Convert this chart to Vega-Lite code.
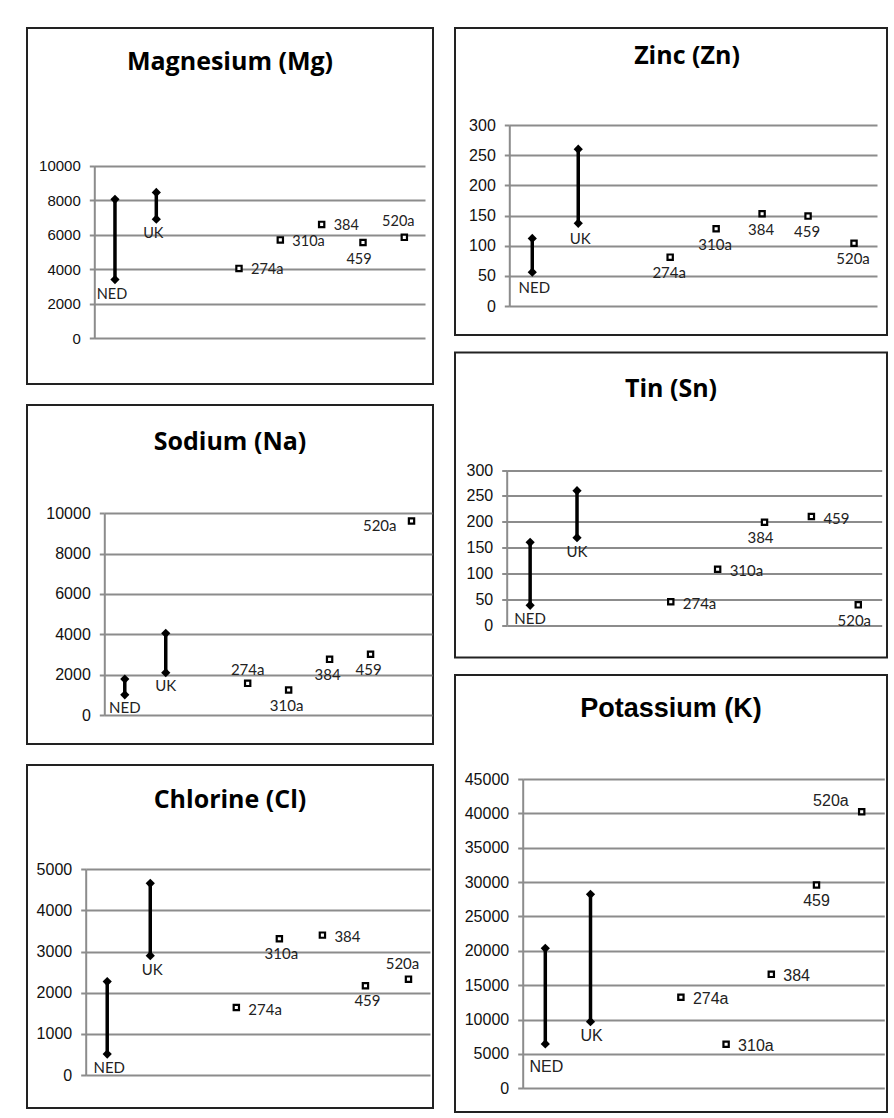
{
"$schema": "https://vega.github.io/schema/vega-lite/v6.json",
"background": "#ffffff",
"padding": {"left": 26, "top": 27, "right": 5, "bottom": 5},
"datasets": {
"ranges": [
{"panel":"Mg","site":"NED","idx":1,"lo":3400,"hi":8050,"place":"below"},
{"panel":"Mg","site":"UK","idx":2,"lo":6900,"hi":8450,"place":"below"},
{"panel":"Zn","site":"NED","idx":1,"lo":56,"hi":112,"place":"below"},
{"panel":"Zn","site":"UK","idx":2,"lo":137,"hi":260,"place":"below"},
{"panel":"Na","site":"NED","idx":1,"lo":1000,"hi":1780,"place":"below"},
{"panel":"Na","site":"UK","idx":2,"lo":2100,"hi":4050,"place":"below"},
{"panel":"Sn","site":"NED","idx":1,"lo":38,"hi":160,"place":"below"},
{"panel":"Sn","site":"UK","idx":2,"lo":169,"hi":260,"place":"below"},
{"panel":"Cl","site":"NED","idx":1,"lo":510,"hi":2270,"place":"below"},
{"panel":"Cl","site":"UK","idx":2,"lo":2900,"hi":4660,"place":"below"},
{"panel":"K","site":"NED","idx":1,"lo":6450,"hi":20370,"place":"farbelow"},
{"panel":"K","site":"UK","idx":2,"lo":9700,"hi":28220,"place":"below"}
],
"points": [
{"panel":"Mg","site":"274a","idx":4,"value":4050,"place":"right"},
{"panel":"Mg","site":"310a","idx":5,"value":5700,"place":"right"},
{"panel":"Mg","site":"384","idx":6,"value":6600,"place":"right"},
{"panel":"Mg","site":"459","idx":7,"value":5550,"place":"below"},
{"panel":"Mg","site":"520a","idx":8,"value":5850,"place":"above"},
{"panel":"Zn","site":"274a","idx":4,"value":81,"place":"below"},
{"panel":"Zn","site":"310a","idx":5,"value":128,"place":"below"},
{"panel":"Zn","site":"384","idx":6,"value":153,"place":"below"},
{"panel":"Zn","site":"459","idx":7,"value":149,"place":"below"},
{"panel":"Zn","site":"520a","idx":8,"value":104,"place":"below"},
{"panel":"Na","site":"274a","idx":4,"value":1570,"place":"above"},
{"panel":"Na","site":"310a","idx":5,"value":1240,"place":"below"},
{"panel":"Na","site":"384","idx":6,"value":2760,"place":"below"},
{"panel":"Na","site":"459","idx":7,"value":3010,"place":"below"},
{"panel":"Na","site":"520a","idx":8,"value":9620,"place":"left"},
{"panel":"Sn","site":"274a","idx":4,"value":45,"place":"right"},
{"panel":"Sn","site":"310a","idx":5,"value":108,"place":"right"},
{"panel":"Sn","site":"384","idx":6,"value":199,"place":"below"},
{"panel":"Sn","site":"459","idx":7,"value":210,"place":"right"},
{"panel":"Sn","site":"520a","idx":8,"value":39,"place":"below"},
{"panel":"Cl","site":"274a","idx":4,"value":1640,"place":"right"},
{"panel":"Cl","site":"310a","idx":5,"value":3310,"place":"below"},
{"panel":"Cl","site":"384","idx":6,"value":3400,"place":"right"},
{"panel":"Cl","site":"459","idx":7,"value":2170,"place":"below"},
{"panel":"Cl","site":"520a","idx":8,"value":2330,"place":"above"},
{"panel":"K","site":"274a","idx":4,"value":13240,"place":"right"},
{"panel":"K","site":"310a","idx":5,"value":6400,"place":"right"},
{"panel":"K","site":"384","idx":6,"value":16580,"place":"right"},
{"panel":"K","site":"459","idx":7,"value":29580,"place":"below"},
{"panel":"K","site":"520a","idx":8,"value":40240,"place":"aboveleft"}
]
},
"spacing": 20,
"hconcat": [
{"spacing": 21, "bounds": "flush", "vconcat": [
{
"width": 406, "height": 356,
"title": {"text": "Magnesium (Mg)", "offset": -67, "font": "Open Sans", "fontSize": 25, "fontWeight": "bold", "baseline": "alphabetic", "anchor": "middle", "color": "#000"},
"encoding": {"x": {"field": "idx", "type": "quantitative", "scale": {"domain": [0.5, 8.5], "range": [67.3, 398], "nice": false, "zero": false}, "axis": null}},
"layer": [
{"data": {"name": "ranges"}, "transform": [{"filter": {"field": "panel", "equal": "Mg"}}], "mark": {"type": "rule", "color": "#000", "strokeWidth": 3.5},
 "encoding": {"y": {"field": "lo", "type": "quantitative", "scale": {"domain": [0, 10000], "range": [310.3, 137.7], "nice": false, "zero": false},
   "axis": {"values": [0,2000,4000,6000,8000,10000], "title": null, "domain": true, "domainColor": "#8c8c8c", "domainWidth": 2, "grid": true, "gridColor": "#8c8c8c", "gridWidth": 2, "gridOpacity": 1, "ticks": true, "tickSize": 5, "tickWidth": 2, "tickColor": "#8c8c8c", "labelFont": "Liberation Sans", "labelFontSize": 15, "labelColor": "#111", "labelPadding": 9, "offset": -67.3, "format": "d", "labelBaseline": "middle"}},
  "y2": {"field": "hi"}}},
{"data": {"name": "ranges"}, "transform": [{"filter": {"field": "panel", "equal": "Mg"}}], "mark": {"type": "point", "shape": "diamond", "filled": true, "color": "#000", "size": 85, "opacity": 1},
 "encoding": {"y": {"field": "lo", "type": "quantitative"}}},
{"data": {"name": "ranges"}, "transform": [{"filter": {"field": "panel", "equal": "Mg"}}], "mark": {"type": "point", "shape": "diamond", "filled": true, "color": "#000", "size": 85, "opacity": 1},
 "encoding": {"y": {"field": "hi", "type": "quantitative"}}},
{"data": {"name": "points"}, "transform": [{"filter": {"field": "panel", "equal": "Mg"}}], "mark": {"type": "point", "shape": "square", "filled": true, "fill": "#fff", "stroke": "#000", "strokeWidth": 2.2, "size": 28, "opacity": 1},
 "encoding": {"y": {"field": "value", "type": "quantitative"}}},
{"data": {"name": "ranges"}, "transform": [{"filter": {"field": "panel", "equal": "Mg"}}], "mark": {"type": "text", "font": "Lato", "fontSize": 14.5, "color": "#222", "baseline": "middle",
  "align": {"expr": "datum.place === 'right' ? 'left' : (datum.place === 'left' || datum.place === 'aboveleft') ? 'right' : 'center'"},
  "dx": {"expr": "datum.place === 'right' ? 12 : datum.place === 'above' ? -6 : datum.place === 'left' ? -15 : datum.place === 'aboveleft' ? -13 : -3"},
  "dy": {"expr": "datum.place === 'right' ? 2 : datum.place === 'below' ? 15 : datum.place === 'farbelow' ? 23 : datum.place === 'above' ? -15 : datum.place === 'left' ? 5 : -11"}},
 "encoding": {"y": {"field": "lo", "type": "quantitative"}, "text": {"field": "site"}}},
{"data": {"name": "points"}, "transform": [{"filter": {"field": "panel", "equal": "Mg"}}], "mark": {"type": "text", "font": "Lato", "fontSize": 14.5, "color": "#222", "baseline": "middle",
  "align": {"expr": "datum.place === 'right' ? 'left' : (datum.place === 'left' || datum.place === 'aboveleft') ? 'right' : 'center'"},
  "dx": {"expr": "datum.place === 'right' ? 12 : datum.place === 'above' ? -6 : datum.place === 'left' ? -15 : datum.place === 'aboveleft' ? -13 : -4"},
  "dy": {"expr": "datum.place === 'right' ? 2 : datum.place === 'below' ? 17 : datum.place === 'farbelow' ? 23 : datum.place === 'above' ? -15 : datum.place === 'left' ? 5 : -11"}},
 "encoding": {"y": {"field": "value", "type": "quantitative"}, "text": {"field": "site"}}}
]
},
{
"width": 406, "height": 339,
"title": {"text": "Sodium (Na)", "offset": -70, "font": "Open Sans", "fontSize": 25, "fontWeight": "bold", "baseline": "alphabetic", "anchor": "middle", "color": "#000"},
"encoding": {"x": {"field": "idx", "type": "quantitative", "scale": {"domain": [0.5, 8.5], "range": [77.3, 405], "nice": false, "zero": false}, "axis": null}},
"layer": [
{"data": {"name": "ranges"}, "transform": [{"filter": {"field": "panel", "equal": "Na"}}], "mark": {"type": "rule", "color": "#000", "strokeWidth": 3.5},
 "encoding": {"y": {"field": "lo", "type": "quantitative", "scale": {"domain": [0, 10000], "range": [310, 108.3], "nice": false, "zero": false},
   "axis": {"values": [0,2000,4000,6000,8000,10000], "title": null, "domain": true, "domainColor": "#8c8c8c", "domainWidth": 2, "grid": true, "gridColor": "#8c8c8c", "gridWidth": 2, "gridOpacity": 1, "ticks": true, "tickSize": 5, "tickWidth": 2, "tickColor": "#8c8c8c", "labelFont": "Liberation Sans", "labelFontSize": 16, "labelColor": "#111", "labelPadding": 9, "offset": -77.3, "format": "d", "labelBaseline": "middle"}},
  "y2": {"field": "hi"}}},
{"data": {"name": "ranges"}, "transform": [{"filter": {"field": "panel", "equal": "Na"}}], "mark": {"type": "point", "shape": "diamond", "filled": true, "color": "#000", "size": 85, "opacity": 1},
 "encoding": {"y": {"field": "lo", "type": "quantitative"}}},
{"data": {"name": "ranges"}, "transform": [{"filter": {"field": "panel", "equal": "Na"}}], "mark": {"type": "point", "shape": "diamond", "filled": true, "color": "#000", "size": 85, "opacity": 1},
 "encoding": {"y": {"field": "hi", "type": "quantitative"}}},
{"data": {"name": "points"}, "transform": [{"filter": {"field": "panel", "equal": "Na"}}], "mark": {"type": "point", "shape": "square", "filled": true, "fill": "#fff", "stroke": "#000", "strokeWidth": 2.2, "size": 28, "opacity": 1},
 "encoding": {"y": {"field": "value", "type": "quantitative"}}},
{"data": {"name": "ranges"}, "transform": [{"filter": {"field": "panel", "equal": "Na"}}], "mark": {"type": "text", "font": "Lato", "fontSize": 15, "color": "#222", "baseline": "middle",
  "align": {"expr": "datum.place === 'right' ? 'left' : (datum.place === 'left' || datum.place === 'aboveleft') ? 'right' : 'center'"},
  "dx": {"expr": "datum.place === 'right' ? 12 : datum.place === 'above' ? -6 : datum.place === 'left' ? -15 : datum.place === 'aboveleft' ? -13 : 0"},
  "dy": {"expr": "datum.place === 'right' ? 2 : datum.place === 'below' ? 13 : datum.place === 'farbelow' ? 23 : datum.place === 'above' ? -13 : datum.place === 'left' ? 5 : -11"}},
 "encoding": {"y": {"field": "lo", "type": "quantitative"}, "text": {"field": "site"}}},
{"data": {"name": "points"}, "transform": [{"filter": {"field": "panel", "equal": "Na"}}], "mark": {"type": "text", "font": "Lato", "fontSize": 15, "color": "#222", "baseline": "middle",
  "align": {"expr": "datum.place === 'right' ? 'left' : (datum.place === 'left' || datum.place === 'aboveleft') ? 'right' : 'center'"},
  "dx": {"expr": "datum.place === 'right' ? 12 : datum.place === 'above' ? 0 : datum.place === 'left' ? -15 : datum.place === 'aboveleft' ? -13 : -2"},
  "dy": {"expr": "datum.place === 'right' ? 2 : datum.place === 'below' ? 16 : datum.place === 'farbelow' ? 23 : datum.place === 'above' ? -13 : datum.place === 'left' ? 5 : -11"}},
 "encoding": {"y": {"field": "value", "type": "quantitative"}, "text": {"field": "site"}}}
]
},
{
"width": 406, "height": 343,
"title": {"text": "Chlorine (Cl)", "offset": -68, "font": "Open Sans", "fontSize": 25, "fontWeight": "bold", "baseline": "alphabetic", "anchor": "middle", "color": "#000"},
"encoding": {"x": {"field": "idx", "type": "quantitative", "scale": {"domain": [0.5, 8.5], "range": [58.7, 403], "nice": false, "zero": false}, "axis": null}},
"layer": [
{"data": {"name": "ranges"}, "transform": [{"filter": {"field": "panel", "equal": "Cl"}}], "mark": {"type": "rule", "color": "#000", "strokeWidth": 3.5},
 "encoding": {"y": {"field": "lo", "type": "quantitative", "scale": {"domain": [0, 5000], "range": [310, 104.3], "nice": false, "zero": false},
   "axis": {"values": [0,1000,2000,3000,4000,5000], "title": null, "domain": true, "domainColor": "#8c8c8c", "domainWidth": 2, "grid": true, "gridColor": "#8c8c8c", "gridWidth": 2, "gridOpacity": 1, "ticks": true, "tickSize": 5, "tickWidth": 2, "tickColor": "#8c8c8c", "labelFont": "Liberation Sans", "labelFontSize": 16, "labelColor": "#111", "labelPadding": 9, "offset": -58.7, "format": "d", "labelBaseline": "middle"}},
  "y2": {"field": "hi"}}},
{"data": {"name": "ranges"}, "transform": [{"filter": {"field": "panel", "equal": "Cl"}}], "mark": {"type": "point", "shape": "diamond", "filled": true, "color": "#000", "size": 85, "opacity": 1},
 "encoding": {"y": {"field": "lo", "type": "quantitative"}}},
{"data": {"name": "ranges"}, "transform": [{"filter": {"field": "panel", "equal": "Cl"}}], "mark": {"type": "point", "shape": "diamond", "filled": true, "color": "#000", "size": 85, "opacity": 1},
 "encoding": {"y": {"field": "hi", "type": "quantitative"}}},
{"data": {"name": "points"}, "transform": [{"filter": {"field": "panel", "equal": "Cl"}}], "mark": {"type": "point", "shape": "square", "filled": true, "fill": "#fff", "stroke": "#000", "strokeWidth": 2.2, "size": 28, "opacity": 1},
 "encoding": {"y": {"field": "value", "type": "quantitative"}}},
{"data": {"name": "ranges"}, "transform": [{"filter": {"field": "panel", "equal": "Cl"}}], "mark": {"type": "text", "font": "Lato", "fontSize": 15, "color": "#222", "baseline": "middle",
  "align": {"expr": "datum.place === 'right' ? 'left' : (datum.place === 'left' || datum.place === 'aboveleft') ? 'right' : 'center'"},
  "dx": {"expr": "datum.place === 'right' ? 12 : datum.place === 'above' ? -6 : datum.place === 'left' ? -15 : datum.place === 'aboveleft' ? -13 : 2"},
  "dy": {"expr": "datum.place === 'right' ? 2 : datum.place === 'below' ? 14 : datum.place === 'farbelow' ? 23 : datum.place === 'above' ? -15 : datum.place === 'left' ? 5 : -11"}},
 "encoding": {"y": {"field": "lo", "type": "quantitative"}, "text": {"field": "site"}}},
{"data": {"name": "points"}, "transform": [{"filter": {"field": "panel", "equal": "Cl"}}], "mark": {"type": "text", "font": "Lato", "fontSize": 15, "color": "#222", "baseline": "middle",
  "align": {"expr": "datum.place === 'right' ? 'left' : (datum.place === 'left' || datum.place === 'aboveleft') ? 'right' : 'center'"},
  "dx": {"expr": "datum.place === 'right' ? 12 : datum.place === 'above' ? -6 : datum.place === 'left' ? -15 : datum.place === 'aboveleft' ? -13 : 2"},
  "dy": {"expr": "datum.place === 'right' ? 2 : datum.place === 'below' ? 15 : datum.place === 'farbelow' ? 23 : datum.place === 'above' ? -15 : datum.place === 'left' ? 5 : -11"}},
 "encoding": {"y": {"field": "value", "type": "quantitative"}, "text": {"field": "site"}}}
]
}
]},
{"spacing": 17.5, "bounds": "flush", "vconcat": [
{
"width": 432, "height": 307,
"title": {"text": "Zinc (Zn)", "offset": -61, "dx": 16, "font": "Open Sans", "fontSize": 25, "fontWeight": "bold", "baseline": "alphabetic", "anchor": "middle", "color": "#000"},
"encoding": {"x": {"field": "idx", "type": "quantitative", "scale": {"domain": [0.5, 8.5], "range": [54.3, 422], "nice": false, "zero": false}, "axis": null}},
"layer": [
{"data": {"name": "ranges"}, "transform": [{"filter": {"field": "panel", "equal": "Zn"}}], "mark": {"type": "rule", "color": "#000", "strokeWidth": 3.5},
 "encoding": {"y": {"field": "lo", "type": "quantitative", "scale": {"domain": [0, 300], "range": [278, 97], "nice": false, "zero": false},
   "axis": {"values": [0,50,100,150,200,250,300], "title": null, "domain": true, "domainColor": "#8c8c8c", "domainWidth": 2, "grid": true, "gridColor": "#8c8c8c", "gridWidth": 2, "gridOpacity": 1, "ticks": true, "tickSize": 5, "tickWidth": 2, "tickColor": "#8c8c8c", "labelFont": "Liberation Sans", "labelFontSize": 16, "labelColor": "#111", "labelPadding": 9, "offset": -54.3, "format": "d", "labelBaseline": "middle"}},
  "y2": {"field": "hi"}}},
{"data": {"name": "ranges"}, "transform": [{"filter": {"field": "panel", "equal": "Zn"}}], "mark": {"type": "point", "shape": "diamond", "filled": true, "color": "#000", "size": 85, "opacity": 1},
 "encoding": {"y": {"field": "lo", "type": "quantitative"}}},
{"data": {"name": "ranges"}, "transform": [{"filter": {"field": "panel", "equal": "Zn"}}], "mark": {"type": "point", "shape": "diamond", "filled": true, "color": "#000", "size": 85, "opacity": 1},
 "encoding": {"y": {"field": "hi", "type": "quantitative"}}},
{"data": {"name": "points"}, "transform": [{"filter": {"field": "panel", "equal": "Zn"}}], "mark": {"type": "point", "shape": "square", "filled": true, "fill": "#fff", "stroke": "#000", "strokeWidth": 2.2, "size": 28, "opacity": 1},
 "encoding": {"y": {"field": "value", "type": "quantitative"}}},
{"data": {"name": "ranges"}, "transform": [{"filter": {"field": "panel", "equal": "Zn"}}], "mark": {"type": "text", "font": "Lato", "fontSize": 15, "color": "#222", "baseline": "middle",
  "align": {"expr": "datum.place === 'right' ? 'left' : (datum.place === 'left' || datum.place === 'aboveleft') ? 'right' : 'center'"},
  "dx": {"expr": "datum.place === 'right' ? 12 : datum.place === 'above' ? -6 : datum.place === 'left' ? -15 : datum.place === 'aboveleft' ? -13 : 2"},
  "dy": {"expr": "datum.place === 'right' ? 2 : datum.place === 'below' ? 16 : datum.place === 'farbelow' ? 23 : datum.place === 'above' ? -15 : datum.place === 'left' ? 5 : -11"}},
 "encoding": {"y": {"field": "lo", "type": "quantitative"}, "text": {"field": "site"}}},
{"data": {"name": "points"}, "transform": [{"filter": {"field": "panel", "equal": "Zn"}}], "mark": {"type": "text", "font": "Lato", "fontSize": 15, "color": "#222", "baseline": "middle",
  "align": {"expr": "datum.place === 'right' ? 'left' : (datum.place === 'left' || datum.place === 'aboveleft') ? 'right' : 'center'"},
  "dx": {"expr": "datum.place === 'right' ? 12 : datum.place === 'above' ? -6 : datum.place === 'left' ? -15 : datum.place === 'aboveleft' ? -13 : -1"},
  "dy": {"expr": "datum.place === 'right' ? 2 : datum.place === 'below' ? 16 : datum.place === 'farbelow' ? 23 : datum.place === 'above' ? -15 : datum.place === 'left' ? 5 : -11"}},
 "encoding": {"y": {"field": "value", "type": "quantitative"}, "text": {"field": "site"}}}
]
},
{
"width": 432, "height": 305,
"title": {"text": "Tin (Sn)", "offset": -69, "font": "Open Sans", "fontSize": 25, "fontWeight": "bold", "baseline": "alphabetic", "anchor": "middle", "color": "#000"},
"encoding": {"x": {"field": "idx", "type": "quantitative", "scale": {"domain": [0.5, 8.5], "range": [51.7, 426.7], "nice": false, "zero": false}, "axis": null}},
"layer": [
{"data": {"name": "ranges"}, "transform": [{"filter": {"field": "panel", "equal": "Sn"}}], "mark": {"type": "rule", "color": "#000", "strokeWidth": 3.5},
 "encoding": {"y": {"field": "lo", "type": "quantitative", "scale": {"domain": [0, 300], "range": [272.5, 117.5], "nice": false, "zero": false},
   "axis": {"values": [0,50,100,150,200,250,300], "title": null, "domain": true, "domainColor": "#8c8c8c", "domainWidth": 2, "grid": true, "gridColor": "#8c8c8c", "gridWidth": 2, "gridOpacity": 1, "ticks": true, "tickSize": 5, "tickWidth": 2, "tickColor": "#8c8c8c", "labelFont": "Liberation Sans", "labelFontSize": 16, "labelColor": "#111", "labelPadding": 9, "offset": -51.7, "format": "d", "labelBaseline": "middle"}},
  "y2": {"field": "hi"}}},
{"data": {"name": "ranges"}, "transform": [{"filter": {"field": "panel", "equal": "Sn"}}], "mark": {"type": "point", "shape": "diamond", "filled": true, "color": "#000", "size": 85, "opacity": 1},
 "encoding": {"y": {"field": "lo", "type": "quantitative"}}},
{"data": {"name": "ranges"}, "transform": [{"filter": {"field": "panel", "equal": "Sn"}}], "mark": {"type": "point", "shape": "diamond", "filled": true, "color": "#000", "size": 85, "opacity": 1},
 "encoding": {"y": {"field": "hi", "type": "quantitative"}}},
{"data": {"name": "points"}, "transform": [{"filter": {"field": "panel", "equal": "Sn"}}], "mark": {"type": "point", "shape": "square", "filled": true, "fill": "#fff", "stroke": "#000", "strokeWidth": 2.2, "size": 28, "opacity": 1},
 "encoding": {"y": {"field": "value", "type": "quantitative"}}},
{"data": {"name": "ranges"}, "transform": [{"filter": {"field": "panel", "equal": "Sn"}}], "mark": {"type": "text", "font": "Lato", "fontSize": 15, "color": "#222", "baseline": "middle",
  "align": {"expr": "datum.place === 'right' ? 'left' : (datum.place === 'left' || datum.place === 'aboveleft') ? 'right' : 'center'"},
  "dx": {"expr": "datum.place === 'right' ? 12 : datum.place === 'above' ? -6 : datum.place === 'left' ? -15 : datum.place === 'aboveleft' ? -13 : 0"},
  "dy": {"expr": "datum.place === 'right' ? 2 : datum.place === 'below' ? 14 : datum.place === 'farbelow' ? 23 : datum.place === 'above' ? -15 : datum.place === 'left' ? 5 : -11"}},
 "encoding": {"y": {"field": "lo", "type": "quantitative"}, "text": {"field": "site"}}},
{"data": {"name": "points"}, "transform": [{"filter": {"field": "panel", "equal": "Sn"}}], "mark": {"type": "text", "font": "Lato", "fontSize": 15, "color": "#222", "baseline": "middle",
  "align": {"expr": "datum.place === 'right' ? 'left' : (datum.place === 'left' || datum.place === 'aboveleft') ? 'right' : 'center'"},
  "dx": {"expr": "datum.place === 'right' ? 12 : datum.place === 'above' ? -6 : datum.place === 'left' ? -15 : datum.place === 'aboveleft' ? -13 : -4"},
  "dy": {"expr": "datum.place === 'right' ? 2 : datum.place === 'below' ? 16 : datum.place === 'farbelow' ? 23 : datum.place === 'above' ? -15 : datum.place === 'left' ? 5 : -11"}},
 "encoding": {"y": {"field": "value", "type": "quantitative"}, "text": {"field": "site"}}}
]
},
{
"width": 432, "height": 437,
"title": {"text": "Potassium (K)", "offset": -69, "font": "Liberation Sans", "fontSize": 27, "fontWeight": "bold", "baseline": "alphabetic", "anchor": "middle", "color": "#000"},
"encoding": {"x": {"field": "idx", "type": "quantitative", "scale": {"domain": [0.5, 8.5], "range": [67.7, 429.3], "nice": false, "zero": false}, "axis": null}},
"layer": [
{"data": {"name": "ranges"}, "transform": [{"filter": {"field": "panel", "equal": "K"}}], "mark": {"type": "rule", "color": "#000", "strokeWidth": 3.5},
 "encoding": {"y": {"field": "lo", "type": "quantitative", "scale": {"domain": [0, 45000], "range": [413.3, 104], "nice": false, "zero": false},
   "axis": {"values": [0,5000,10000,15000,20000,25000,30000,35000,40000,45000], "title": null, "domain": true, "domainColor": "#8c8c8c", "domainWidth": 2, "grid": true, "gridColor": "#8c8c8c", "gridWidth": 2, "gridOpacity": 1, "ticks": true, "tickSize": 5, "tickWidth": 2, "tickColor": "#8c8c8c", "labelFont": "Liberation Sans", "labelFontSize": 16, "labelColor": "#111", "labelPadding": 9, "offset": -67.7, "format": "d", "labelBaseline": "middle"}},
  "y2": {"field": "hi"}}},
{"data": {"name": "ranges"}, "transform": [{"filter": {"field": "panel", "equal": "K"}}], "mark": {"type": "point", "shape": "diamond", "filled": true, "color": "#000", "size": 85, "opacity": 1},
 "encoding": {"y": {"field": "lo", "type": "quantitative"}}},
{"data": {"name": "ranges"}, "transform": [{"filter": {"field": "panel", "equal": "K"}}], "mark": {"type": "point", "shape": "diamond", "filled": true, "color": "#000", "size": 85, "opacity": 1},
 "encoding": {"y": {"field": "hi", "type": "quantitative"}}},
{"data": {"name": "points"}, "transform": [{"filter": {"field": "panel", "equal": "K"}}], "mark": {"type": "point", "shape": "square", "filled": true, "fill": "#fff", "stroke": "#000", "strokeWidth": 2.2, "size": 28, "opacity": 1},
 "encoding": {"y": {"field": "value", "type": "quantitative"}}},
{"data": {"name": "ranges"}, "transform": [{"filter": {"field": "panel", "equal": "K"}}], "mark": {"type": "text", "font": "Liberation Sans", "fontSize": 16, "color": "#222", "baseline": "middle",
  "align": {"expr": "datum.place === 'right' ? 'left' : (datum.place === 'left' || datum.place === 'aboveleft') ? 'right' : 'center'"},
  "dx": {"expr": "datum.place === 'right' ? 12 : datum.place === 'above' ? -6 : datum.place === 'left' ? -15 : datum.place === 'aboveleft' ? -13 : 1"},
  "dy": {"expr": "datum.place === 'right' ? 2 : datum.place === 'below' ? 14 : datum.place === 'farbelow' ? 23 : datum.place === 'above' ? -15 : datum.place === 'left' ? 5 : -11"}},
 "encoding": {"y": {"field": "lo", "type": "quantitative"}, "text": {"field": "site"}}},
{"data": {"name": "points"}, "transform": [{"filter": {"field": "panel", "equal": "K"}}], "mark": {"type": "text", "font": "Liberation Sans", "fontSize": 16, "color": "#222", "baseline": "middle",
  "align": {"expr": "datum.place === 'right' ? 'left' : (datum.place === 'left' || datum.place === 'aboveleft') ? 'right' : 'center'"},
  "dx": {"expr": "datum.place === 'right' ? 12 : datum.place === 'above' ? -6 : datum.place === 'left' ? -15 : datum.place === 'aboveleft' ? -13 : 0"},
  "dy": {"expr": "datum.place === 'right' ? 2 : datum.place === 'below' ? 16 : datum.place === 'farbelow' ? 23 : datum.place === 'above' ? -15 : datum.place === 'left' ? 5 : -11"}},
 "encoding": {"y": {"field": "value", "type": "quantitative"}, "text": {"field": "site"}}}
]
}
]}
],
"config": {
"view": {"stroke": "#222", "strokeWidth": 2, "fill": "#ffffff"}
}
}
